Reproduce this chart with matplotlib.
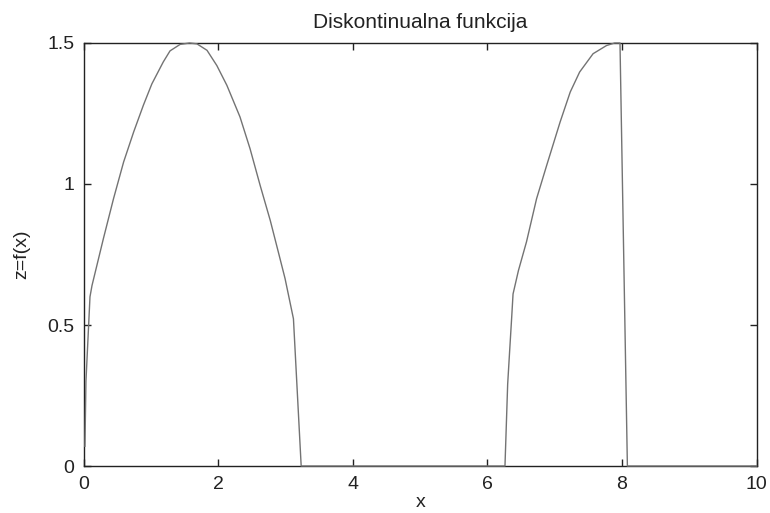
import matplotlib
matplotlib.use("Agg")
import matplotlib.pyplot as plt

# sampled values of z = f(x)
x_vals = [0.015, 0.03, 0.06, 0.09, 0.12, 0.29, 0.44, 0.59, 0.74, 0.885,
          1.01, 1.18, 1.28, 1.43, 1.57, 1.68, 1.83, 1.976, 2.125, 2.32, 2.47,
          2.62, 2.77, 2.89, 2.99, 3.115, 3.23, 4.0, 5.0, 6.0, 6.26, 6.30, 6.33,
          6.36, 6.38, 6.46, 6.58, 6.73, 6.88, 7.08, 7.23, 7.37, 7.57, 7.77,
          7.89, 7.97, 8.08, 9.0, 10.0]
z_vals = [0.07, 0.30, 0.45, 0.60, 0.64, 0.807, 0.948, 1.078, 1.185, 1.28,
          1.355, 1.433, 1.472, 1.495, 1.5, 1.497, 1.474, 1.42, 1.35, 1.238, 1.125,
          0.995, 0.871, 0.759, 0.665, 0.522, 0.0, 0.0, 0.0, 0.0, 0.0, 0.29, 0.41,
          0.528, 0.61, 0.693, 0.795, 0.948, 1.066, 1.22, 1.326, 1.397, 1.462, 1.491,
          1.5, 1.5, 0.0, 0.0, 0.0]

x_ticks = [0, 2, 4, 6, 8, 10]
y_ticks = [0, 0.5, 1, 1.5]
y_tick_labels = ["0", "0.5", "1", "1.5"]

plt.rcParams["font.family"] = ["Liberation Sans", "DejaVu Sans"]

fig = plt.figure(figsize=(7.7, 5.13), dpi=100)
ax = fig.add_axes([0.109, 0.0916, 0.8735, 0.8246])

ax.plot(x_vals, z_vals, color="#737373", linewidth=1.0, zorder=3, clip_on=False)

ax.set_xlim(0, 10)
ax.set_ylim(0, 1.5)
ax.set_xticks(x_ticks)
ax.set_yticks(y_ticks)
ax.set_yticklabels(y_tick_labels)
ax.tick_params(direction="in", length=5, width=1, top=True, right=True,
               labelsize=14, colors="#222222", pad=7)
for spine in ax.spines.values():
    spine.set_linewidth(1.0)
    spine.set_color("#222222")

ax.set_title("Diskontinualna funkcija", fontsize=15, color="#222222", pad=11)
ax.set_xlabel("x", fontsize=14, color="#222222", labelpad=1)
ax.set_ylabel("z=f(x)", fontsize=14, color="#222222", labelpad=12)

fig.savefig("out.png", dpi=100)
